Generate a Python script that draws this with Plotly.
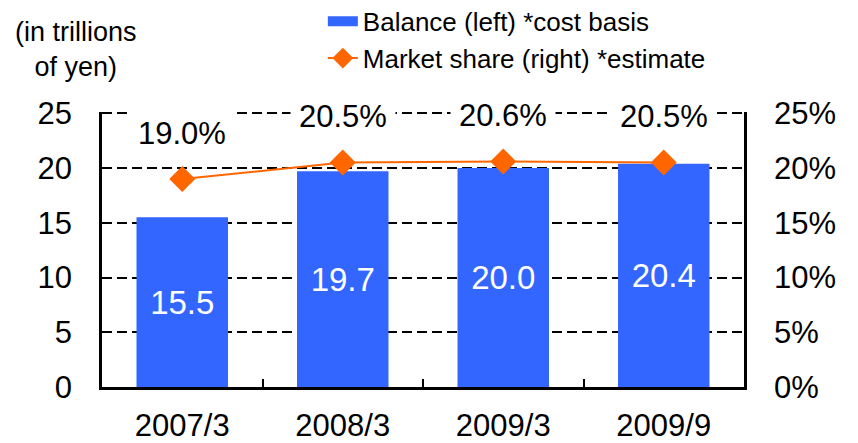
import plotly.graph_objects as go

# ── Data ──────────────────────────────────────────────────────────────
periods = ["2007/3", "2008/3", "2009/3", "2009/9"]
balance = [15.5, 19.7, 20.0, 20.4]          # trillions of yen
share = [19.0, 20.5, 20.6, 20.5]            # market share, %

left_ticks = [0, 5, 10, 15, 20, 25]
right_ticks = [0, 5, 10, 15, 20, 25]

BLUE = "#3366FF"
ORANGE = "#FF6600"
FONT = "Arial, 'Liberation Sans', sans-serif"

fig = go.Figure()

fig.add_trace(go.Bar(
    x=periods, y=balance, name="Balance (left) *cost basis",
    marker_color=BLUE, marker_line_width=0, width=0.57,
    text=[f"{v:.1f}" for v in balance], textposition="inside",
    insidetextanchor="middle", textangle=0,
    textfont=dict(color="white", size=33, family=FONT),
    showlegend=False,
))
# legend stand-in: a thick blue stroke like the original's wide swatch
fig.add_trace(go.Scatter(
    x=[None], y=[None], mode="lines", name="Balance (left) *cost basis",
    line=dict(color=BLUE, width=13),
))
fig.add_trace(go.Scatter(
    x=periods, y=share, name="Market share (right) *estimate", yaxis="y2",
    mode="lines+markers",
    line=dict(color=ORANGE, width=2),
    marker=dict(symbol="diamond", size=20, color=ORANGE),
))

# share labels, sitting well above the markers; white box breaks the top gridline
for p, s in zip(periods, share):
    fig.add_annotation(
        x=p, y=s, yref="y2", text=f"{s:.1f}%", showarrow=False,
        yshift=46, font=dict(size=31, color="black", family=FONT),
        bgcolor="white", borderpad=8,
    )

fig.add_annotation(
    xref="paper", yref="paper", x=-0.04, y=1.226, xanchor="center", yanchor="middle",
    text="(in trillions<br>of yen)", showarrow=False, align="center",
    font=dict(size=27, color="black", family=FONT),
)

# a little over 25 so plotly still draws the top dashed gridline
top = 25.12

# page body adds an 8px offset, so the figure is 8px smaller each way
fig.update_layout(
    width=850, height=435,
    paper_bgcolor="white", plot_bgcolor="white",
    font=dict(family=FONT, color="black"),
    margin=dict(l=94, r=114, t=104, b=56, autoexpand=False),
    bargap=0.43,
    showlegend=True,
    legend=dict(
        x=0.344, y=1.415, xanchor="left", yanchor="top",
        font=dict(size=26, color="black", family=FONT),
        bgcolor="rgba(0,0,0,0)", tracegroupgap=0,
    ),
    xaxis=dict(
        showline=True, linecolor="black", linewidth=2.5,
        ticks="inside", tickson="boundaries", ticklen=8, tickcolor="black",
        tickwidth=2, tickfont=dict(size=31, color="black"),
        showgrid=False, fixedrange=True, ticklabelstandoff=9,
    ),
    yaxis=dict(
        range=[0, top], tickvals=left_ticks,
        showline=True, linecolor="black", linewidth=2.5,
        showgrid=True, gridcolor="black", gridwidth=1.5, griddash="10px,5px",
        zeroline=False, ticks="", ticklabelstandoff=21,
        tickfont=dict(size=31, color="black"),
    ),
    yaxis2=dict(
        range=[0, top], tickvals=right_ticks,
        ticktext=[f"{t}%" for t in right_ticks],
        overlaying="y", side="right",
        showline=True, linecolor="black", linewidth=2.5,
        showgrid=False, zeroline=False, ticks="", ticklabelstandoff=21,
        tickfont=dict(size=31, color="black"),
    ),
)

fig.write_html("out.html")
